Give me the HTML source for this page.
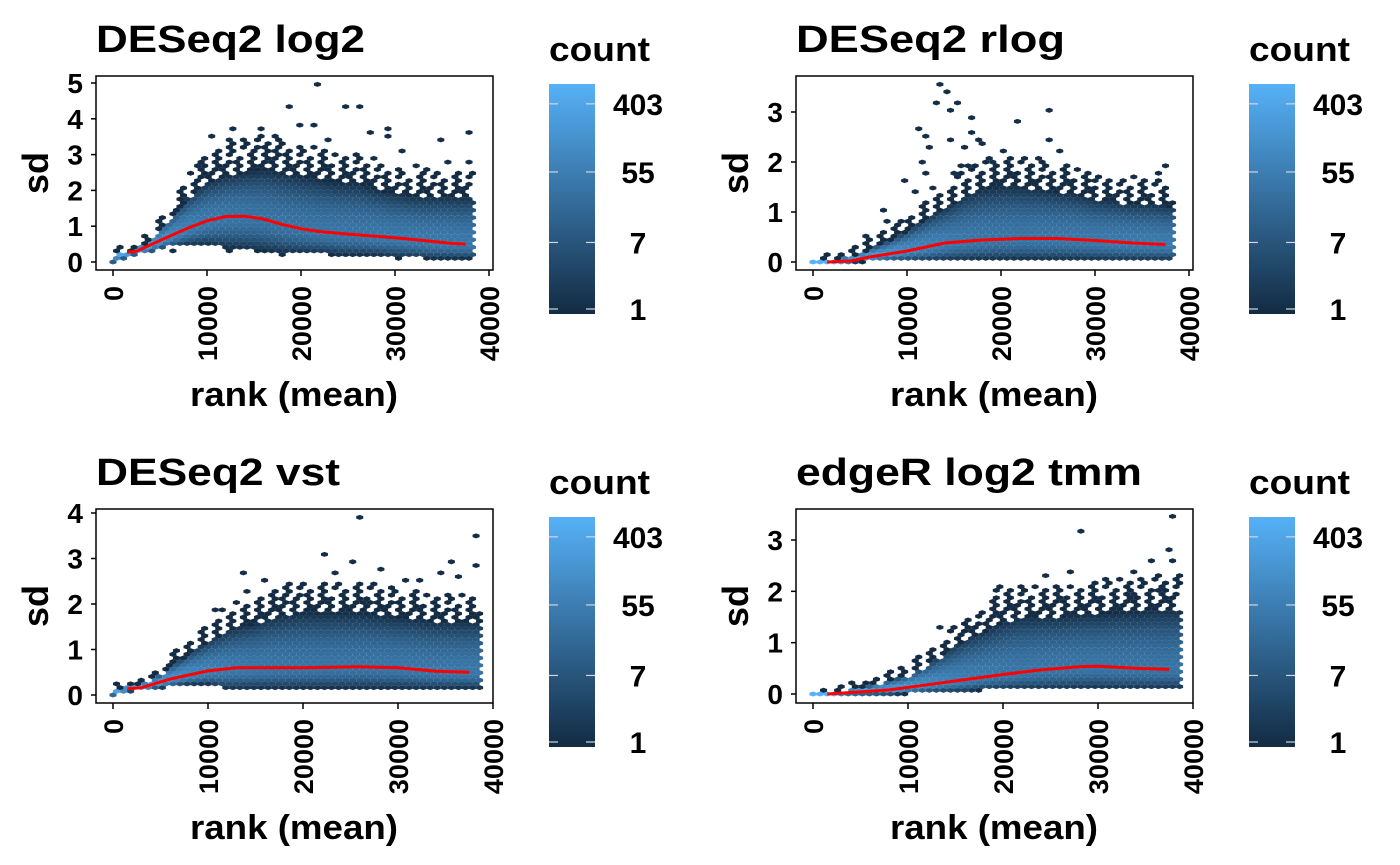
<!DOCTYPE html>
<html><head><meta charset="utf-8"><style>
html,body{margin:0;padding:0;background:#fff;}
svg{display:block;font-family:"Liberation Sans",Arial,sans-serif;font-weight:bold;}
</style></head><body>
<svg id="chart" width="1400" height="865" viewBox="0 0 1400 865"></svg>
<script>
// ---------------- data ----------------
const envRanks = [0,2000,4000,6000,8000,10000,12000,14000,16000,18000,20000,22000,24000,26000,28000,30000,32000,34000,36000,38000];
// panel 1: DESeq2 log2
const log2Hi = [0.2,0.3,0.6,1.2,1.8,2.2,2.4,2.5,2.6,2.5,2.4,2.3,2.2,2.2,2.0,1.9,1.8,1.8,1.8,1.8];
const log2Lo = [0,0.2,0.3,0.45,0.5,0.5,0.4,0.35,0.3,0.25,0.25,0.25,0.2,0.2,0.2,0.15,0.15,0.1,0.1,0.1];
const log2LineRank = [1500,2500,5000,8000,10000,12000,14000,16000,18000,20000,22000,25000,28000,30000,33000,36000,37500];
const log2LineSd = [0.27,0.3,0.6,0.95,1.15,1.27,1.28,1.2,1.05,0.93,0.85,0.78,0.72,0.68,0.6,0.52,0.5];
const log2Out = [[22000,4.95],[19000,4.3],[24500,4.35],[26000,4.3],[20000,3.85],[21500,3.85],[13000,3.75],[16000,3.75],[29000,3.75],[37600,3.65],[27000,3.65],[10500,3.5],[12500,3.4],[14000,3.4],[17500,3.5],[29500,3.5],[34500,3.4],[31000,3.15],[23000,3.4],[9000,2.7],[37500,2.8],[35500,2.8],[32000,2.7],[6500,0.35],[12000,0.35],[18000,0.2],[30500,0.1],[36500,0.1],[15500,3.2],[17000,3.1],[14500,3.0],[25500,3.0],[27500,2.9],[33000,2.55],[11500,2.9]];
// panel 2: DESeq2 rlog
const rlogHi = [0,0.05,0.1,0.25,0.4,0.6,0.85,1.05,1.3,1.45,1.5,1.5,1.45,1.4,1.35,1.25,1.2,1.15,1.15,1.1];
const rlogLo = [0,0,0,0.03,0.05,0.05,0.05,0.05,0.05,0.05,0.05,0.05,0.05,0.05,0.05,0.05,0.05,0.05,0.05,0.05];
const rlogLineRank = [1500,4000,6000,10000,14000,18000,22000,26000,30000,34000,37500];
const rlogLineSd = [0,0.02,0.1,0.22,0.38,0.44,0.47,0.47,0.43,0.38,0.35];
const rlogOut = [[13500,3.55],[13000,3.2],[14000,3.4],[15000,3.15],[14300,3.0],[25000,3.05],[22000,2.8],[11000,2.65],[16500,2.6],[12000,2.55],[17000,2.9],[17500,2.45],[25000,2.45],[18000,2.4],[26500,2.2],[24000,2.05],[20000,2.2],[21000,2.1],[7500,1.0],[7500,0.8],[10000,1.6],[10500,1.4],[37500,1.9],[36500,1.75],[34000,1.7],[32500,1.55],[30000,1.6],[9000,0.8],[6000,0.55],[15500,1.9],[16000,2.3],[19000,2.0],[12500,2.3],[14500,2.45],[11500,2.0],[12000,1.8],[13000,1.5],[15000,1.8],[16500,1.9]];
// panel 3: DESeq2 vst
const vstHi = [0.1,0.2,0.3,0.6,0.9,1.15,1.4,1.5,1.65,1.75,1.8,1.8,1.8,1.8,1.75,1.7,1.65,1.6,1.6,1.6];
const vstLo = [0,0.1,0.15,0.2,0.25,0.25,0.15,0.15,0.15,0.15,0.15,0.15,0.15,0.15,0.15,0.15,0.15,0.15,0.15,0.15];
const vstLineRank = [1500,3000,6000,10000,13000,20000,26000,30000,34000,37500];
const vstLineSd = [0.14,0.16,0.35,0.53,0.6,0.6,0.62,0.6,0.52,0.5];
const vstOut = [[26000,3.9],[38000,3.5],[22500,3.1],[25000,2.95],[35500,2.95],[38000,2.85],[13500,2.7],[28500,2.75],[30500,2.5],[16000,2.5],[14000,2.3],[19500,2.35],[23500,2.65],[36500,2.6],[34500,2.65],[32000,2.5],[11000,1.9],[10000,1.45],[10000,1.0],[20000,2.2],[18000,2.1],[21000,2.15],[27000,2.05],[33000,2.2],[15000,2.05]];
// panel 4: edgeR log2 tmm
const tmmHi = [0,0.02,0.08,0.15,0.25,0.35,0.55,0.8,1.05,1.2,1.4,1.5,1.5,1.5,1.55,1.55,1.6,1.6,1.65,1.65];
const tmmLo = [0,0,0,0,0,0.03,0.05,0.05,0.05,0.1,0.1,0.1,0.1,0.1,0.1,0.1,0.1,0.1,0.1,0.1];
const tmmLineRank = [1500,4000,8000,12000,16000,20000,24000,28000,30000,34000,37500];
const tmmLineSd = [0,0.03,0.08,0.18,0.28,0.38,0.47,0.53,0.54,0.5,0.48];
const tmmOut = [[28500,3.2],[38000,3.45],[37500,2.8],[35500,2.6],[38000,2.6],[24500,2.3],[27000,2.35],[19500,2.1],[19500,2.0],[34000,2.35],[31000,2.2],[32000,2.05],[13500,1.3],[28000,2.0],[10000,0],[29500,1.9],[33500,1.95],[36500,2.05],[26000,1.85],[22000,1.8]];
const xTicks = [0,10000,20000,30000,40000];
const legendLabels = [403,55,7,1];

// --------------- layout ---------------
const panels = [
 {name:'deseq2-log2',title:'DESeq2 log2',ox:0,oy:0,y0:262,y1:83,yv1:5,x0:113,x1:489,hi:log2Hi,lo:log2Lo,lr:log2LineRank,ls:log2LineSd,out:log2Out,yt:[0,1,2,3,4,5]},
 {name:'deseq2-rlog',title:'DESeq2 rlog',ox:700,oy:0,y0:262,y1:112,yv1:3,x0:813,x1:1189,hi:rlogHi,lo:rlogLo,lr:rlogLineRank,ls:rlogLineSd,out:rlogOut,yt:[0,1,2,3]},
 {name:'deseq2-vst',title:'DESeq2 vst',ox:0,oy:433,y0:695,y1:513,yv1:4,x0:113,x1:493,hi:vstHi,lo:vstLo,lr:vstLineRank,ls:vstLineSd,out:vstOut,yt:[0,1,2,3,4]},
 {name:'edger-log2-tmm',title:'edgeR log2 tmm',ox:700,oy:433,y0:694,y1:540,yv1:3,x0:813,x1:1193,hi:tmmHi,lo:tmmLo,lr:tmmLineRank,ls:tmmLineSd,out:tmmOut,yt:[0,1,2,3]}
];
const NS='http://www.w3.org/2000/svg';
const svg=document.getElementById('chart');
function mk(tag,attrs,parent){const e=document.createElementNS(NS,tag);for(const k in attrs)e.setAttribute(k,attrs[k]);(parent||svg).appendChild(e);return e;}
function interp(xs,ys,x){if(x<=xs[0])return ys[0];for(let i=1;i<xs.length;i++){if(x<=xs[i]){const t=(x-xs[i-1])/(xs[i]-xs[i-1]);return ys[i-1]+t*(ys[i]-ys[i-1]);}}return ys[ys.length-1];}
function color(f){f=Math.max(0,Math.min(1,f));const a=[19,43,67],b=[86,177,247];return 'rgb('+a.map((v,i)=>Math.round(v+(b[i]-v)*f)).join(',')+')';}
function hexPts(cx,cy,w,h){const hw=w/2,q=h/4;return [[cx,cy-h/2],[cx+hw,cy-q],[cx+hw,cy+q],[cx,cy+h/2],[cx-hw,cy+q],[cx-hw,cy-q]].map(p=>p[0].toFixed(2)+','+p[1].toFixed(2)).join(' ');}

panels.forEach(p=>{
  const g=mk('g',{});
  
  
  const xS=r=>p.x0+(r/40000)*(p.x1-p.x0);
  const yS=v=>p.y0-(v/p.yv1)*(p.y0-p.y1);
  const xInv=px=>(px-p.x0)/(p.x1-p.x0)*40000;
  const yInv=py=>(p.y0-py)/(p.y0-p.y1)*p.yv1;
  const bx=96+p.ox, by=76+p.oy;
  const t=mk('text',{x:bx,y:52+p.oy,'font-size':38,textLength:(p.title==='edgeR log2 tmm'?346:(p.title==='DESeq2 vst'?244:269)),lengthAdjust:'spacingAndGlyphs'},g);
  t.textContent=p.title;
  
  
  const hg=mk('g',{},g);
  
  
  const W=7.05,RS=3.7,H=RS*4/3+0.1;
  const set=new Set();
  const unit=(p.y0-p.y1)/p.yv1;
  for(let r=0;r<60;r++){
    const cy=p.y0-r*RS; if(cy<by+3)break;
    const off=(r%2)?W/2:0;
    for(let c=0;c<60;c++){
      const cx=p.x0+c*W+off; const rank=xInv(cx); if(rank>38600)break;
      const sd=yInv(cy);
      const hi=interp(envRanks,p.hi,rank), lo=interp(envRanks,p.lo,rank);
      const fr=0.35*(hi-lo)+6/unit;
      const inFringe=sd>hi && sd<=hi+fr;
      if(sd<lo-0.02||sd>hi+fr)continue;
      if(inFringe){ const k=(r*7+c*13)%5; const lim=(sd-hi)/fr<0.5?3:2; if(k>=lim)continue; }
      const ctr=Math.min(Math.max(interp(p.lr,p.ls,rank),lo),hi);
      const spreadPx=Math.max(3,(hi-lo)*unit);
      const peak=2600/spreadPx;
      const sig=(sd>=ctr?Math.max(hi-ctr,0.02):Math.max(ctr-lo,0.02))/2.6;
      const z=(sd-ctr)/sig;
      let cnt=inFringe?1:Math.max(1,peak*Math.exp(-0.5*z*z));
      const f=Math.log(cnt)/6.58;
      const h=mk('polygon',{points:hexPts(cx,cy,W,H),fill:color(f)},hg);
      
      
      set.add(r+'_'+c);
    }
  }
  p.out.forEach(o=>{
    const r=Math.round((p.y0-yS(o[1]))/RS);const cy=p.y0-r*RS;const off=(r%2)?W/2:0;
    const c=Math.round((xS(o[0])-p.x0-off)/W);const cx=p.x0+c*W+off;
    if(set.has(r+'_'+c))return;
    const h=mk('polygon',{points:hexPts(cx,cy,W,H),fill:color(0.02)},hg);
    
    
  });
  const pts=[];for(let i=0;i<p.lr.length;i++)pts.push(xS(p.lr[i]).toFixed(1)+','+yS(p.ls[i]).toFixed(1));
  const ln=mk('polyline',{points:pts.join(' '),fill:'none',stroke:'#ff0000','stroke-width':3,'stroke-linejoin':'round'},g);
  
  
  const bxr=mk('rect',{x:bx,y:by,width:397,height:194,fill:'none',stroke:'#000','stroke-width':1.5},g);
  
  
  p.yt.forEach(v=>{
    const y=yS(v);
    mk('line',{x1:bx-5,x2:bx,y1:y,y2:y,stroke:'#000','stroke-width':1.5},g);
    const tl=mk('text',{x:bx-13,y:y+10,'font-size':28,'text-anchor':'end'},g);
    tl.textContent=v;
    
    
  });
  xTicks.forEach(v=>{
    const x=xS(v);
    mk('line',{x1:x,x2:x,y1:by+194,y2:by+200,stroke:'#000','stroke-width':1.5},g);
    const tl=mk('text',{x:0,y:0,'font-size':27,'text-anchor':'end',transform:'translate('+(x+10)+','+(by+210)+') rotate(-90)'},g);
    tl.textContent=v;
    
    
  });
  const yt=mk('text',{x:0,y:0,'font-size':36,'text-anchor':'middle',transform:'translate('+(48+p.ox)+','+(173+p.oy)+') rotate(-90)'},g);
  yt.textContent='sd';
  
  
  const xt=mk('text',{x:294+p.ox,y:406+p.oy,'font-size':34,'text-anchor':'middle',textLength:208,lengthAdjust:'spacingAndGlyphs'},g);
  xt.textContent='rank (mean)';
  
  
  const lg=mk('g',{},g);
  
  
  const lx=549+p.ox, ly=84+p.oy;
  const lt=mk('text',{x:lx,y:61+p.oy,'font-size':34,textLength:101,lengthAdjust:'spacingAndGlyphs'},lg);
  lt.textContent='count';
  
  
  const gid='grad'+p.name;
  const defs=mk('defs',{},lg);
  const gr=mk('linearGradient',{id:gid,x1:0,y1:1,x2:0,y2:0},defs);
  mk('stop',{offset:0,'stop-color':color(-0.02)},gr);
  mk('stop',{offset:1,'stop-color':color(1)},gr);
  const bar=mk('rect',{x:lx,y:ly,width:46,height:230,fill:'url(#'+gid+')'},lg);
  
  
  legendLabels.forEach(v=>{
    const y=ly+230-5-Math.log(v)*34.2;
    mk('line',{x1:lx,x2:lx+9,y1:y,y2:y,stroke:'#cfd8e0','stroke-width':1.2},lg);
    mk('line',{x1:lx+37,x2:lx+46,y1:y,y2:y,stroke:'#cfd8e0','stroke-width':1.2},lg);
    const l=mk('text',{x:lx+89,y:y+11,'font-size':30,'text-anchor':'middle'},lg);
    l.textContent=v;
    
    
  });
});
</script>
</body></html>
